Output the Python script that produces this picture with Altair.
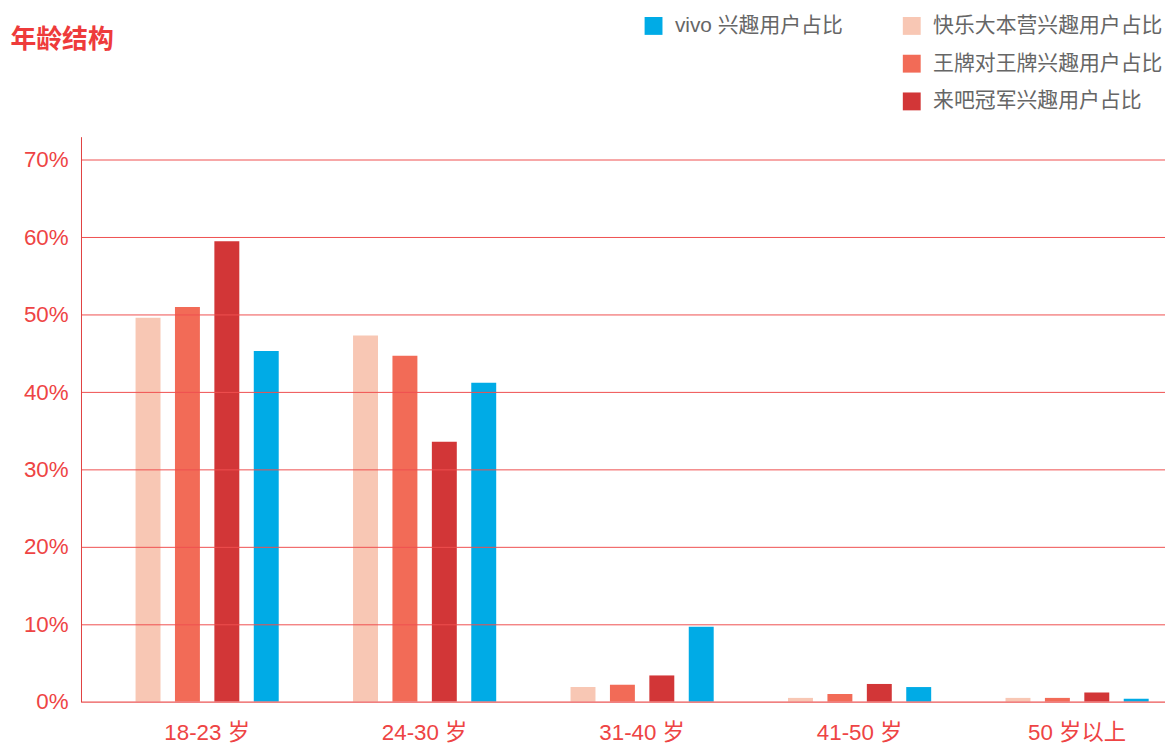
import altair as alt
import pandas as pd

categories = ["18-23 岁", "24-30 岁", "31-40 岁", "41-50 岁", "50 岁以上"]
series = ["快乐大本营兴趣用户占比", "王牌对王牌兴趣用户占比", "来吧冠军兴趣用户占比", "vivo 兴趣用户占比"]
colors = ["#F8C7B4", "#F26B57", "#D23637", "#00ABE6"]

kuaile = [49.6, 47.3, 1.9, 0.5, 0.5]
wangpai = [51.0, 44.7, 2.2, 1.0, 0.5]
laiba = [59.5, 33.6, 3.4, 2.3, 1.2]
vivo = [45.3, 41.2, 9.7, 1.9, 0.4]

rows = []
for name, vals in zip(series, [kuaile, wangpai, laiba, vivo]):
    for c, v in zip(categories, vals):
        rows.append({"age": c, "series": name, "value": v})
df = pd.DataFrame(rows)

FONT = "Liberation Sans, Noto Sans CJK SC"
RED = "#EE4444"

x = alt.X(
    "age:N", sort=categories,
    scale=alt.Scale(paddingInner=0, paddingOuter=0.08),
    axis=alt.Axis(title=None, labelAngle=0, labelFontSize=22.5, labelColor=RED, labelFont=FONT,
                  labelPadding=20, ticks=False, domainColor="#F08080", domainWidth=1.5, zindex=1,
                  grid=False),
)
xo = alt.XOffset("series:N", sort=series,
                 scale=alt.Scale(domain=series, paddingInner=0.367, paddingOuter=0.943))
y = alt.Y(
    "value:Q",
    scale=alt.Scale(domain=[0, 73], nice=False),
    axis=alt.Axis(title=None, values=[0, 10, 20, 30, 40, 50, 60, 70], labelExpr="datum.value + '%'",
                  labelFontSize=22.5, labelColor=RED, labelFont=FONT, labelPadding=13, ticks=False,
                  domainColor="#E04040", grid=True, gridColor="#EF5050", gridWidth=1, zindex=1),
)

legend_common = dict(orient="none", symbolType="square", symbolSize=324, symbolStrokeWidth=0,
                     labelFontSize=21, labelColor="#666666", labelFont=FONT, rowPadding=16,
                     padding=0, labelOffset=11, labelLimit=400, title=None, legendY=-122)

base = alt.Chart(df).mark_bar()

others = base.transform_filter(alt.datum.series != series[3]).encode(
    x=x, xOffset=xo, y=y,
    color=alt.Color("series:N", sort=series[:3],
                    scale=alt.Scale(domain=series[:3], range=colors[:3]),
                    legend=alt.Legend(legendX=826, **legend_common)),
)
vivo_layer = base.transform_filter(alt.datum.series == series[3]).encode(
    x=x, xOffset=xo, y=y,
    color=alt.Color("series:N",
                    scale=alt.Scale(domain=[series[3]], range=[colors[3]]),
                    legend=alt.Legend(legendX=566, **legend_common)),
)

chart = alt.layer(others, vivo_layer).resolve_scale(color="independent").properties(
    width=1130, height=569,
    autosize=alt.AutoSizeParams(type="none"),
    padding={"left": 73.5, "top": 127, "right": -38.5, "bottom": 45},
    title=alt.Title("年龄结构", anchor="start", frame="group", dx=-71, offset=0, dy=51, baseline="middle",
                    fontSize=26, font="Noto Sans CJK SC", fontWeight="bold", color="#EE3B3B"),
).configure_view(stroke=None)

chart.save("out.html", embed_options={"renderer": "svg", "actions": False})
